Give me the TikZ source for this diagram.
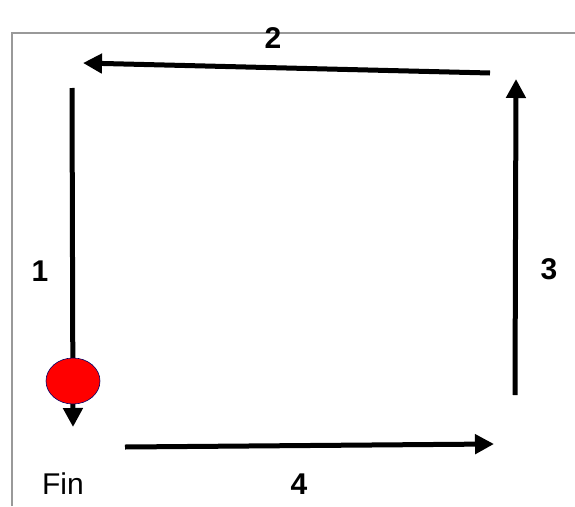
\documentclass[tikz,border=0pt]{standalone}
\usepackage{fontspec}
\setmainfont{Liberation Sans}
\usetikzlibrary{arrows.meta,shapes.geometric}
\begin{document}
\begin{tikzpicture}[x=1pt,y=-1pt,
  frameline/.style={draw=gray!80, line width=2.5pt},
  movearrow/.style={draw=black, line width=5pt, -{Triangle[length=19pt,width=19pt]}},
  numlabel/.style={font=\fontsize{30}{33}\selectfont\bfseries, inner sep=0pt},
  plainlabel/.style={font=\fontsize{30}{33}\selectfont, inner sep=0pt}]
\useasboundingbox (0,0) rectangle (575,506);
% frame
\coordinate (ftl) at (12,33);
\coordinate (ftr) at (575,33);
\coordinate (fbl) at (12,506);
\draw[frameline] (fbl) -- (ftl) -- (ftr);
% arrow endpoints
\coordinate (a1s) at (72,88);
\coordinate (a1e) at (73,427);
\coordinate (a2s) at (490,73);
\coordinate (a2e) at (83,63);
\coordinate (a3s) at (515,395);
\coordinate (a3e) at (516,79);
\coordinate (a4s) at (125,447);
\coordinate (a4e) at (494,444);
\draw[movearrow] (a1s) -- (a1e);
\draw[movearrow] (a2s) -- (a2e);
\draw[movearrow] (a3s) -- (a3e);
\draw[movearrow] (a4s) -- (a4e);
% ball
\node (ball) [ellipse, draw=blue!40!black, line width=0.6pt, fill=red, minimum width=54pt, minimum height=46pt, inner sep=0pt] at (73,381) {};
% labels
\node (l1) [numlabel] at (40,271) {1};
\node (l2) [numlabel] at (273,38) {2};
\node (l3) [numlabel] at (549,269) {3};
\node (l4) [numlabel] at (299,484) {4};
\node (fin) [plainlabel] at (63,484) {Fin};
\end{tikzpicture}
\end{document}
